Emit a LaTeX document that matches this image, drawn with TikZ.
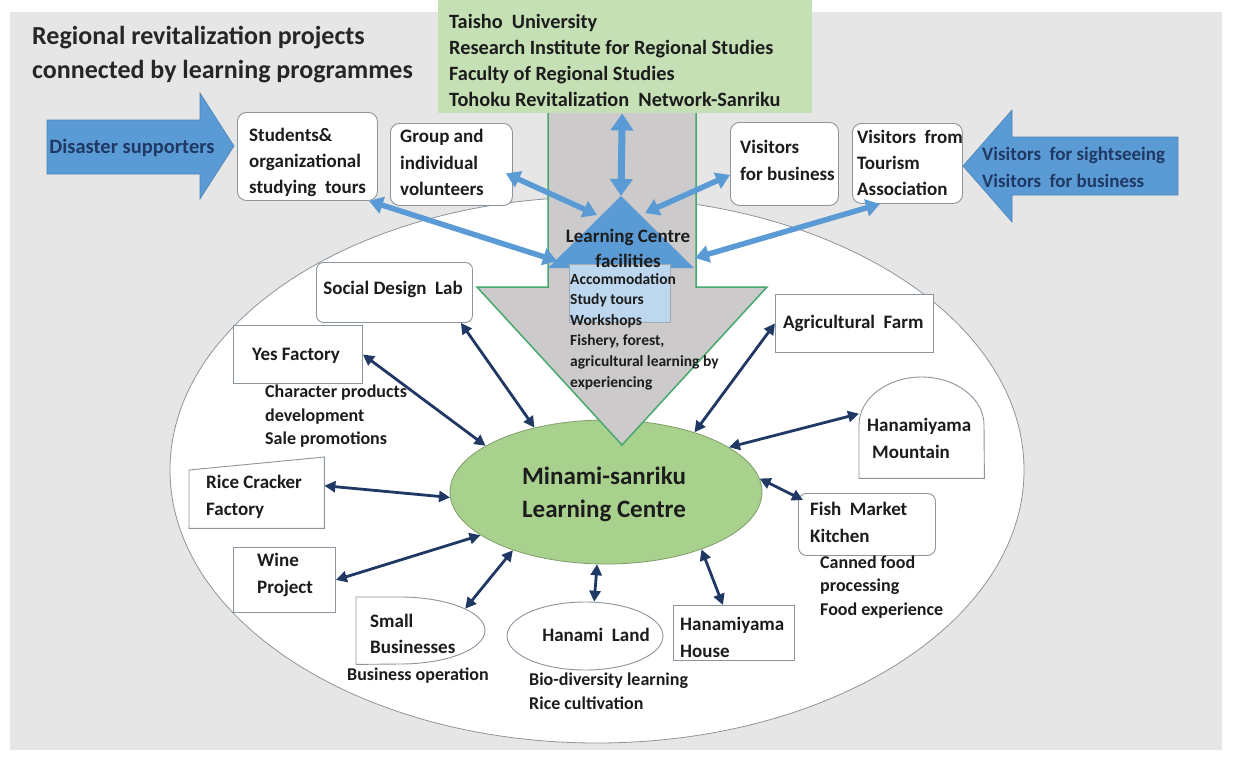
\documentclass[tikz,border=0pt]{standalone}
\usepackage{fontspec}
\setmainfont{Carlito}
\usetikzlibrary{arrows.meta,shapes.geometric}
\definecolor{bg}{RGB}{231,230,230}
\definecolor{blu}{RGB}{91,155,213}
\definecolor{navy}{RGB}{31,56,100}
\definecolor{lgreen}{RGB}{197,224,180}
\definecolor{mgreen}{RGB}{169,209,142}
\definecolor{agreen}{RGB}{70,168,110}
\definecolor{agray}{RGB}{204,202,202}
\definecolor{lblue}{RGB}{189,215,238}
\definecolor{bord}{RGB}{140,148,158}
\definecolor{txt}{RGB}{28,28,28}
\definecolor{ttl}{RGB}{38,38,38}
\newcommand\mltext[6]{%
  \foreach \tline [count=\ii from 0] in {#6}
    \node[#5] (#1-\ii) at ({#2},{#3+\ii*#4}) {\tline};}
\begin{document}
\begin{tikzpicture}[x=1pt,y=-1pt,
  tx/.style={inner sep=0pt, text=txt, anchor=base west, font=\bfseries\fontsize{19}{22}\selectfont},
  sm/.style={tx, font=\bfseries\fontsize{18}{21}\selectfont},
  wbox/.style={draw=bord, fill=white, line width=0.9pt, inner sep=0pt, anchor=north west},
  rbox/.style={wbox, rounded corners=9pt},
  anchbox/.style={inner sep=0pt, anchor=north west},
  bluarr/.style={draw=blu, line width=5.5pt, {Triangle[length=14pt,width=17pt]}-{Triangle[length=14pt,width=17pt]}},
  navarr/.style={draw=navy, line width=2.8pt, {Triangle[length=11pt,width=11pt]}-{Triangle[length=11pt,width=11pt]}},
]
\useasboundingbox (0,0) rectangle (1234,758);
\fill[white] (0,0) rectangle (1234,758);
\fill[bg] (10,12) rectangle (1222,750);

% title
\mltext{title}{32}{44.5}{33.5}{tx, text=ttl, font=\bfseries\fontsize{26}{29}\selectfont}{Regional revitalization projects, connected by learning programmes}

% big ellipse
\draw[draw=bord, line width=0.8pt, fill=white] (597,470) ellipse [x radius=427, y radius=273];

% central ellipse
\node[ellipse, draw=mgreen!75!black, line width=0.8pt, fill=mgreen, minimum width=312pt, minimum height=144pt, inner sep=0pt] (mc) at (606,492) {};

% big gray arrow
\draw[agreen, line width=1.5pt, fill=agray, line join=miter] (548,113) -- (548,287) -- (477,287) -- (622,445) -- (767,287) -- (696,287) -- (696,113);

% university box
\node[anchbox, fill=lgreen, minimum width=374pt, minimum height=113pt] (univ) at (438,0) {};
\mltext{tu}{449}{28}{26.3}{tx, font=\bfseries\fontsize{20.3}{23}\selectfont}{Taisho~ University, Research Institute for Regional Studies, Faculty of Regional Studies, Tohoku Revitalization~ Network-Sanriku}

% block arrows
\filldraw[fill=blu, draw=blu!85!black, line width=0.6pt] (47,120) -- (200,120) -- (200,93) -- (234,146) -- (200,199) -- (200,174) -- (47,174) -- cycle;
\node[tx, text=navy, anchor=base, font=\bfseries\fontsize{20.5}{23}\selectfont] (ds) at (132,153.5) {Disaster supporters};
\filldraw[fill=blu, draw=blu!85!black, line width=0.6pt] (1178,137) -- (1012,137) -- (1012,110) -- (963,166) -- (1012,222) -- (1012,195) -- (1178,195) -- cycle;
\mltext{vs}{982}{160.5}{27}{tx, text=navy}{Visitors~ for sightseeing, Visitors~ for business}

% top boxes
\node[rbox, minimum width=140pt, minimum height=88pt] (stu) at (237,112) {};
\mltext{tstu}{249}{141.5}{26}{tx}{Students\&, organizational, studying~ tours}
\node[rbox, minimum width=122pt, minimum height=82pt] (grp) at (390,123) {};
\mltext{tgrp}{400}{142.5}{26.5}{tx}{Group and, individual, volunteers}
\node[rbox, minimum width=108pt, minimum height=83pt] (vb) at (730,122) {};
\mltext{tvb}{740}{153.5}{27}{tx}{Visitors, for business}
\node[rbox, minimum width=110pt, minimum height=80pt] (vt) at (852,123) {};
\mltext{tvt}{857}{143.5}{26}{tx}{Visitors~ from, Tourism, Association}

% learning centre triangle
\coordinate (apex) at (621,196);
\coordinate (tL) at (548,268);
\coordinate (tR) at (694,268);
\fill[blu] (apex) -- (tL) -- (tR) -- cycle;
\coordinate (eS) at (557,261);
\coordinate (eG) at (597,215);
\coordinate (eB) at (645,213);
\coordinate (eT) at (695,258);

\draw[bluarr, line width=7pt, {Triangle[length=17pt,width=22pt]}-{Triangle[length=17pt,width=22pt]}] ([xshift=-3pt]univ.south) -- (apex);
\draw[bluarr] (eS) -- ([xshift=-9pt]stu.south east);
\draw[bluarr] (eG) -- ([xshift=-7pt,yshift=-9pt]grp.east);
\draw[bluarr] (eB) -- ([yshift=-11pt]vb.west);
\draw[bluarr] (eT) -- ([xshift=28pt]vt.south west);

\node[anchbox, draw=bord!80, fill=lblue, line width=0.6pt, minimum width=101pt, minimum height=58pt] (acc) at (569,264) {};
\node[tx, anchor=base] (lcf-0) at (628,242.5) {Learning Centre};
\node[tx, anchor=base] (lcf-1) at (628,267.5) {facilities};
\mltext{fac}{570}{284}{20.6}{tx, font=\bfseries\fontsize{15.5}{18}\selectfont}{Accommodation, Study tours, Workshops, {Fishery, forest,}, agricultural learning by, experiencing}

% centre text
\node[tx, anchor=base, font=\bfseries\fontsize{25}{28}\selectfont] (mc-0) at (604,484.5) {Minami-sanriku};
\node[tx, anchor=base, font=\bfseries\fontsize{25}{28}\selectfont] (mc-1) at (604,517.5) {Learning Centre};

% left boxes
\node[rbox, rounded corners=7pt, minimum width=156pt, minimum height=60pt] (soc) at (316,262) {};
\node[tx, anchor=base] (tsoc) at (393,294.5) {Social Design~ Lab};
\node[wbox, minimum width=129pt, minimum height=58pt] (yes) at (233,325) {};
\node[tx] (tyes) at (252,360.5) {Yes Factory};
\mltext{tchar}{265}{397.5}{23.5}{sm}{Character products, development, Sale promotions}
\node[anchbox, minimum width=135pt, minimum height=71pt] (rice) at (189,457) {};
\draw[draw=bord, fill=white, line width=0.9pt] (rice.south west) -- (rice.south east) -- (rice.north east) -- ([yshift=-13pt]rice.north west) -- cycle;
\mltext{trice}{206}{488.5}{27}{tx}{Rice Cracker, Factory}
\node[wbox, minimum width=102pt, minimum height=65pt] (wine) at (233,547) {};
\mltext{twine}{257}{566.5}{27}{tx}{Wine, Project}

% bottom boxes
\node[anchbox, minimum width=129pt, minimum height=67pt] (sb) at (356,597) {};
\draw[draw=bord, fill=white, line width=0.9pt] (sb.north west) -- (400,597) arc[start angle=270, end angle=450, x radius=85, y radius=33.5] -- (sb.south west) -- cycle;
\mltext{tsb}{370}{627.5}{26}{tx}{Small, Businesses}
\node[sm] (tbo) at (347,680) {Business operation};
\node[ellipse, draw=bord, fill=white, line width=0.9pt, minimum width=156pt, minimum height=68pt, inner sep=0pt] (hl) at (585,636) {};
\node[tx, anchor=base] (thl) at (596,641.5) {Hanami~ Land};
\mltext{tbio}{529}{685}{24}{sm}{Bio-diversity learning, Rice cultivation}
\node[wbox, minimum width=121pt, minimum height=55pt] (hh) at (673,605) {};
\mltext{thh}{680}{630.5}{27}{tx}{Hanamiyama, House}

% right boxes
\node[rbox, rounded corners=8pt, minimum width=137pt, minimum height=62pt] (fm) at (798,493) {};
\mltext{tfm}{810}{515.5}{27}{tx}{Fish~ Market, Kitchen}
\mltext{tcf}{820}{568}{23.5}{sm}{Canned food, processing, Food experience}
\node[anchbox, minimum width=125pt, minimum height=101pt] (hm) at (859,377) {};
\draw[draw=bord, fill=white, line width=0.9pt] (hm.south west) -- (859,425) arc[start angle=180, end angle=360, x radius=62.5, y radius=48] -- (hm.south east) -- cycle;
\node[tx] (thm-0) at (867,431.5) {Hanamiyama};
\node[tx] (thm-1) at (872,458.5) {Mountain};
\node[wbox, minimum width=158pt, minimum height=58pt] (af) at (775,294) {};
\node[tx] (taf) at (783,328.5) {Agricultural~ Farm};

% navy connectors
\draw[navarr] ([xshift=-12pt]soc.south east) -- (mc.138);
\draw[navarr] (yes.east) -- (mc.159);
\draw[navarr] ([yshift=7pt]rice.east) -- (mc.182);
\draw[navarr] (wine.east) -- (mc.199);
\draw[navarr] ([xshift=44.5pt,yshift=22pt]sb.center) -- (mc.212);
\draw[navarr] (hl.75) -- (mc.263);
\draw[navarr] ([xshift=-11pt]hh.north) -- (mc.329);
\draw[navarr] ([xshift=5pt,yshift=-7pt]fm.north west) -- (mc.5);
\draw[navarr] ([yshift=14pt]hm.west) -- (mc.20);
\draw[navarr] (af.west) -- (mc.34);
\end{tikzpicture}
\end{document}
